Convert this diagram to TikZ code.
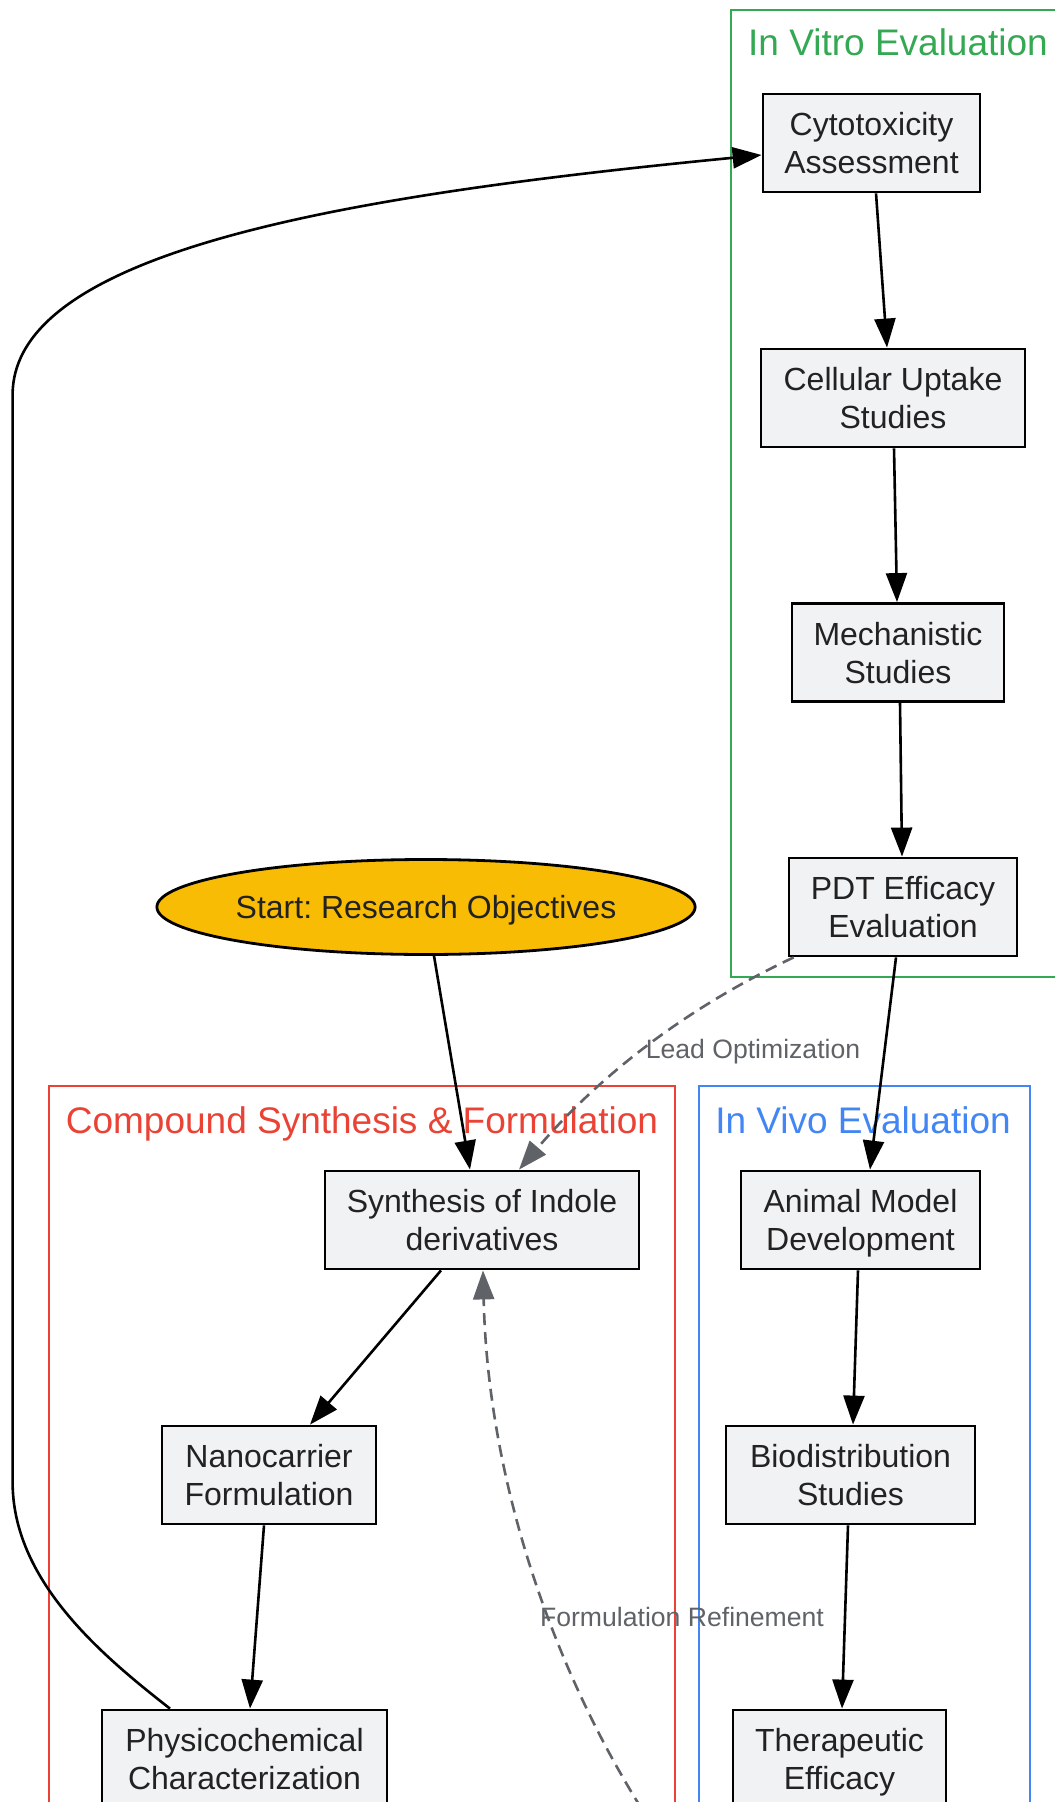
\documentclass[tikz,border=0pt]{standalone}
\usepackage{fontspec}
\setmainfont{Liberation Sans}
\frenchspacing
\usetikzlibrary{shapes.geometric,arrows.meta,calc}
\definecolor{nodefill}{HTML}{F1F2F4}
\definecolor{nodetext}{HTML}{222222}
\definecolor{startfill}{HTML}{F9BC05}
\definecolor{cred}{HTML}{EA4335}
\definecolor{cgreen}{HTML}{34A853}
\definecolor{cblue}{HTML}{4285F4}
\definecolor{lblgray}{HTML}{5F6368}
\begin{document}
\frenchspacing
\begin{tikzpicture}[x=0.5pt,y=-0.5pt,
  box/.style={draw=black, line width=1.4pt, fill=nodefill, text=nodetext, align=center,
    font=\fontsize{16}{19}\selectfont, inner sep=0pt, text depth=0pt, minimum height=49pt},
  startnode/.style={ellipse, draw=black, line width=1.4pt, fill=startfill, text=nodetext,
    font=\fontsize{16}{19}\selectfont, inner sep=0pt, text depth=0pt,
    minimum width=265pt, minimum height=47.5pt},
  cluster/.style={line width=1.1pt},
  ctitle/.style={font=\fontsize{18.5}{22}\selectfont, inner sep=0pt,
    text height=13.5pt, text depth=4pt},
  flow/.style={draw=black, line width=1.3pt, -{Triangle[length=14.5pt,width=10.5pt]}},
  back/.style={draw=lblgray, line width=1.3pt, dash pattern=on 6pt off 3.5pt,
    -{Triangle[length=14.5pt,width=10.5pt]}},
  lbl/.style={text=lblgray, font=\fontsize{13.3}{16}\selectfont, inner sep=0pt}
]
\useasboundingbox (0,0) rectangle (1055,1802);
\clip (0,0) rectangle (1055,1802);
\fill[white] (0,0) rectangle (1055,1802);

% clusters
\draw[cluster, cgreen] (731,10) rectangle (1090,977);
\node[ctitle, text=cgreen] (tvitro) at (898,46) {In Vitro Evaluation};
\draw[cluster, cred] (49,1086) rectangle (675,1860);
\node[ctitle, text=cred] (tcomp) at (362,1124) {Compound Synthesis \& Formulation};
\draw[cluster, cblue] (699,1086) rectangle (1030,1860);
\node[ctitle, text=cblue] (tvivo) at (863,1124) {In Vivo Evaluation};

% nodes
\node[startnode] (start) at (426,907) {Start: Research Objectives};
\node[box, minimum width=108.5pt] (cyto) at (871.5,143) {Cytotoxicity\\Assessment};
\node[box, minimum width=132pt] (cell) at (893,398) {Cellular Uptake\\Studies};
\node[box, minimum width=106pt] (mech) at (898,652.5) {Mechanistic\\Studies};
\node[box, minimum width=114pt] (pdt) at (903,907) {PDT Efficacy\\Evaluation};
\node[box, minimum width=157pt] (synth) at (482,1220) {Synthesis of Indole\\derivatives};
\node[box, minimum width=107pt] (nano) at (269,1475) {Nanocarrier\\Formulation};
\node[box, minimum width=142.5pt] (phys) at (244.5,1759) {Physicochemical\\Characterization};
\node[box, minimum width=119.5pt] (animal) at (860.5,1220) {Animal Model\\Development};
\node[box, minimum width=124.5pt] (bio) at (850.5,1475) {Biodistribution\\Studies};
\node[box, minimum width=106.5pt] (thera) at (839.5,1759) {Therapeutic\\Efficacy};
\coordinate (frsrc) at (662,1840);

% edges
\draw[flow] ($(start.south)+(8,0)$) -- ($(synth.north)+(-12,0)$);
\draw[flow] ($(synth.south)+(-41,0)$) -- ($(nano.north)+(41,0)$);
\draw[flow] ($(nano.south)+(-5,0)$) -- ($(phys.north)+(5.5,0)$);
\draw[flow] ($(phys.north)+(-74.5,0)$) .. controls (100,1654) and (12.6,1580) .. (12.6,1482)
  -- (12.6,395) .. controls (12.6,250) and (350,195) .. ($(cyto.west)+(0,12)$);
\draw[flow] ($(cyto.south)+(4.5,0)$) -- ($(cell.north)+(-6,0)$);
\draw[flow] ($(cell.south)+(1,0)$) -- ($(mech.north)+(-1,0)$);
\draw[flow] ($(mech.south)+(2,0)$) -- ($(pdt.north)+(-1,0)$);
\draw[flow] ($(pdt.south)+(-7,0)$) -- ($(animal.north)+(9.5,0)$);
\draw[flow] ($(animal.south)+(-2.5,0)$) -- ($(bio.north)+(2.5,0)$);
\draw[flow] ($(bio.south)+(-2.5,0)$) -- ($(thera.north)+(2.5,0)$);
\draw[back] ($(pdt.south west)+(6,0)$) .. controls (650,1025) and (570,1110) .. ($(synth.north)+(37,0)$);
\draw[back] (frsrc) .. controls (560,1690) and (488,1490) .. ($(synth.south)+(1,0)$);

% edge labels
\node[lbl] (lo) at (753,1052) {Lead Optimization};
\node[lbl] (fr) at (682,1617) {Formulation Refinement};
\end{tikzpicture}
\end{document}
